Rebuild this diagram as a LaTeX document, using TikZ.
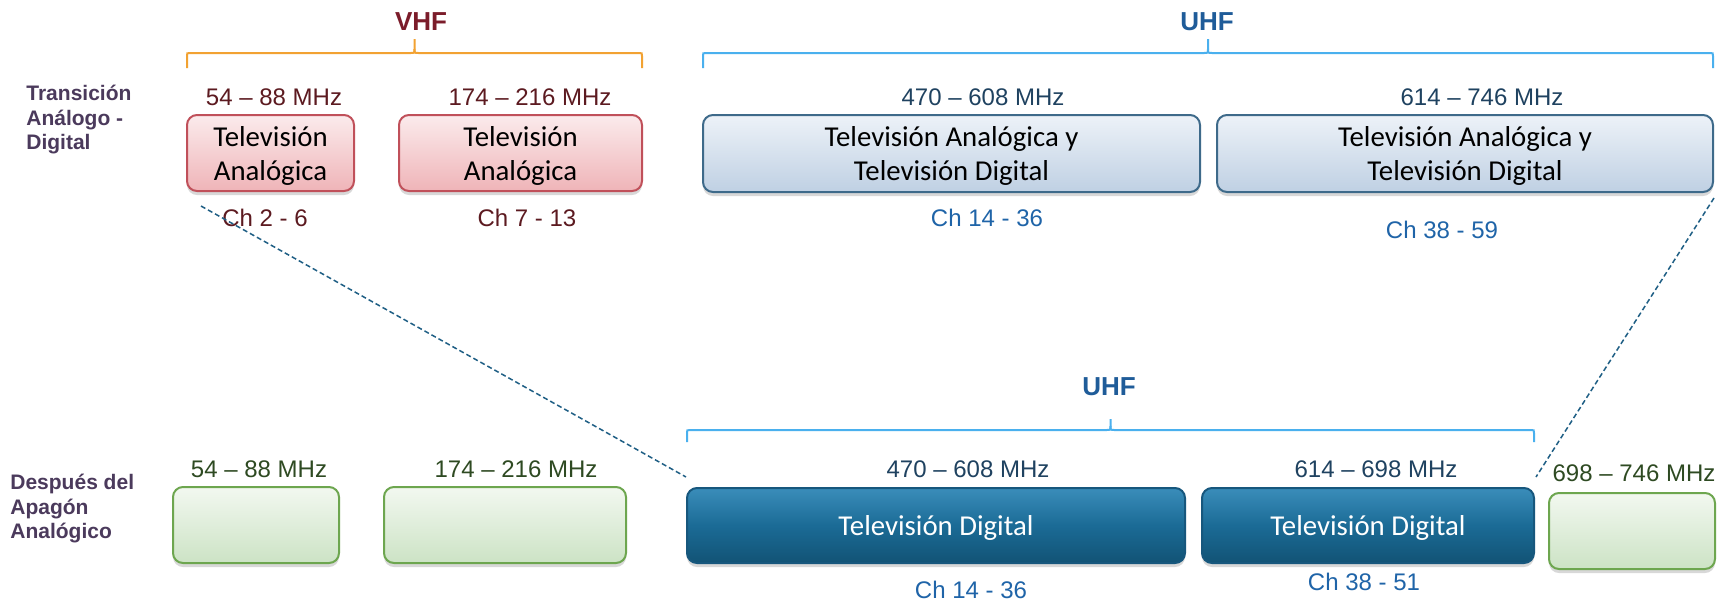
\documentclass[tikz,border=0pt]{standalone}
\usepackage{fontspec}
\setmainfont{Liberation Sans}
\newfontfamily\calibrifont{Carlito}
\usetikzlibrary{shadows,calc}

\definecolor{vhfmaroon}{HTML}{7B1C2A}
\definecolor{vhforange}{HTML}{F2A232}
\definecolor{uhfblue}{HTML}{1F5C99}
\definecolor{uhfsky}{HTML}{4AB0EE}
\definecolor{rowpurple}{HTML}{4B3A5C}
\definecolor{freqmaroon}{HTML}{5C1A20}
\definecolor{freqnavy}{HTML}{1F4260}
\definecolor{chblue}{HTML}{1F64A8}
\definecolor{freqgreen}{HTML}{2E4A22}
\definecolor{redline}{HTML}{C0505A}
\definecolor{redtop}{HTML}{FBEBEC}
\definecolor{redbot}{HTML}{EFB4B8}
\definecolor{mixline}{HTML}{3E6A8A}
\definecolor{mixtop}{HTML}{EDF2F8}
\definecolor{mixbot}{HTML}{BFD0E3}
\definecolor{digline}{HTML}{17577D}
\definecolor{digtop}{HTML}{3A8DBA}
\definecolor{digmid}{HTML}{1B6B96}
\definecolor{digbot}{HTML}{125375}
\definecolor{greenline}{HTML}{6DA64F}
\definecolor{greentop}{HTML}{F2F8F0}
\definecolor{greenbot}{HTML}{CCE3C5}
\definecolor{linkblue}{HTML}{1F5F85}

% brace over a band: colour, left x, right x, y of the line, depth
\newcommand{\bandbrace}[5]{%
	\draw[#1,line width=1pt] (#2,#4+#5) -- (#2,#4+3) .. controls (#2,#4) .. (#2+3,#4)
	-- ({(#2+#3)/2-4},#4) .. controls ({(#2+#3)/2},#4) .. ({(#2+#3)/2},#4-4) -- ({(#2+#3)/2},#4-#5+1);
	\draw[#1,line width=1pt] (#3,#4+#5) -- (#3,#4+3) .. controls (#3,#4) .. (#3-3,#4)
	-- ({(#2+#3)/2+4},#4) .. controls ({(#2+#3)/2},#4) .. ({(#2+#3)/2},#4-4);
}

\tikzset{
	band/.style={rounded corners=5pt,line width=1pt,inner sep=0pt,align=center,text depth=0pt,
		drop shadow={opacity=0.3,shadow xshift=0pt,shadow yshift=-2pt}},
	analogbox/.style={band,draw=redline,top color=redtop,bottom color=redbot,
		text=black,font=\calibrifont\fontsize{14.4}{17}\selectfont},
	mixedbox/.style={band,draw=mixline,top color=mixtop,bottom color=mixbot,
		text=black,font=\calibrifont\fontsize{14.4}{17}\selectfont},
	digitalbox/.style={band,draw=digline,top color=digtop,bottom color=digbot,middle color=digmid,
		text=white,font=\calibrifont\fontsize{14.4}{17}\selectfont},
	freebox/.style={band,draw=greenline,top color=greentop,bottom color=greenbot},
	freqlabel/.style={inner sep=0pt,font=\fontsize{12}{14}\selectfont},
	chlabel/.style={inner sep=0pt,text=chblue,font=\fontsize{12}{14}\selectfont},
	bandname/.style={inner sep=0pt,font=\fontsize{13}{15}\selectfont\bfseries},
	rowlabel/.style={inner sep=0pt,anchor=west,align=left,text=rowpurple,
		font=\fontsize{10.5}{12.25}\selectfont\bfseries},
	link/.style={draw=linkblue,line width=0.75pt,dash pattern=on 2.5pt off 1.5pt}
}

\begin{document}
\begin{tikzpicture}[x=0.5pt,y=-0.5pt]

\useasboundingbox (0,0) rectangle (1726,601);
\fill[white] (0,0) rectangle (1726,601);

%% Transicion
\node[bandname,text=vhfmaroon] (vhf) at (421,22) {VHF};
\bandbrace{vhforange}{187}{642}{53}{15}
\node[bandname,text=uhfblue] (uhftop) at (1207,22) {UHF};
\bandbrace{uhfsky}{703}{1713}{53}{15}

\node[rowlabel] (rowtop) at (26,120) {Transición\\Análogo -\\Digital};

\node[freqlabel,text=freqmaroon] (fa) at (274,97) {54 – 88 MHz};
\node[freqlabel,text=freqmaroon] (fb) at (530,97) {174 – 216 MHz};
\node[freqlabel,text=freqnavy] (fc) at (983,97) {470 – 608 MHz};
\node[freqlabel,text=freqnavy] (fd) at (1482,97) {614 – 746 MHz};

\node[analogbox,minimum width=83.5pt,minimum height=38pt] (ra) at (270.5,153) {Televisión\\Analógica};
\node[analogbox,minimum width=121.5pt,minimum height=38pt] (rb) at (520.5,153) {Televisión\\Analógica};
\node[mixedbox,minimum width=248.5pt,minimum height=38.5pt] (la) at (951.5,153.5) {Televisión Analógica y\\Televisión Digital};
\node[mixedbox,minimum width=248pt,minimum height=38.5pt] (lb) at (1465,153.5) {Televisión Analógica y\\Televisión Digital};

\node[chlabel,text=freqmaroon] (ca) at (265,218) {Ch 2 - 6};
\node[chlabel,text=freqmaroon] (cb) at (527,218) {Ch 7 - 13};
\node[chlabel] (cc) at (987,218) {Ch 14 - 36};
\node[chlabel] (cd) at (1442,230) {Ch 38 - 59};

%% Despues del apagon
\node[bandname,text=uhfblue] (uhfbot) at (1109,387) {UHF};
\bandbrace{uhfsky}{687}{1534}{430}{12}

\node[rowlabel] (rowbot) at (10,509) {Después del\\Apagón\\Analógico};

\node[freqlabel,text=freqgreen] (ga) at (259,469) {54 – 88 MHz};
\node[freqlabel,text=freqgreen] (gb) at (516,469) {174 – 216 MHz};
\node[freqlabel,text=freqnavy] (gc) at (968,469) {470 – 608 MHz};
\node[freqlabel,text=freqnavy] (gd) at (1376,469) {614 – 698 MHz};
\node[freqlabel,text=freqgreen] (ge) at (1634,473) {698 – 746 MHz};

\node[freebox,minimum width=83pt,minimum height=38pt] (va) at (256,525) {};
\node[freebox,minimum width=121pt,minimum height=38pt] (vb) at (505,525) {};
\node[digitalbox,minimum width=249pt,minimum height=37.5pt] (da) at (936,525.5) {Televisión Digital};
\node[digitalbox,minimum width=166pt,minimum height=37.5pt] (db) at (1368,525.5) {Televisión Digital};
\node[freebox,minimum width=83pt,minimum height=38pt] (vc) at (1632,531) {};

\node[chlabel] (ce) at (971,590) {Ch 14 - 36};
\node[chlabel] (cf) at (1364,582) {Ch 38 - 51};

%% links
\draw[link] ($(ra.south west)+(15,14)$) -- ($(da.north west)+(0,-10)$);
\draw[link] ($(lb.south east)+(0,5)$) -- ($(db.north east)+(1,-10)$);

\end{tikzpicture}
\end{document}
